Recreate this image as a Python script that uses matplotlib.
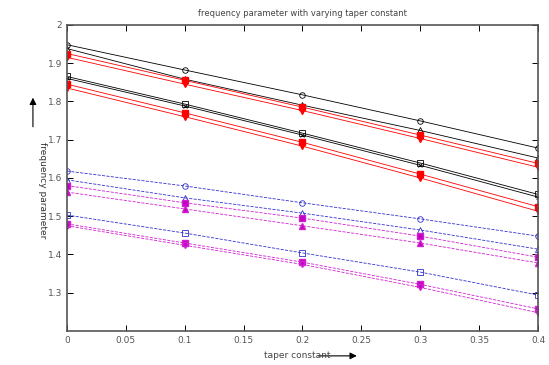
import matplotlib.pyplot as plt
import numpy as np

taper = [0, 0.1, 0.2, 0.3, 0.4]

# upper group (solid)
blk_circle = [1.948, 1.882, 1.817, 1.749, 1.678]
blk_tri = [1.938, 1.858, 1.790, 1.724, 1.652]
red_sq_a = [1.925, 1.855, 1.785, 1.712, 1.638]
red_tri_a = [1.915, 1.845, 1.776, 1.703, 1.628]
blk_square = [1.865, 1.793, 1.717, 1.639, 1.557]
blk_diam = [1.860, 1.788, 1.712, 1.633, 1.550]
red_sq_b = [1.845, 1.770, 1.693, 1.610, 1.525]
red_tri_b = [1.835, 1.760, 1.683, 1.600, 1.513]

# lower group (dashed)
blu_circle = [1.618, 1.579, 1.535, 1.493, 1.448]
blu_tri = [1.595, 1.548, 1.508, 1.464, 1.414]
mag_sq_a = [1.580, 1.535, 1.495, 1.448, 1.393]
mag_tri_a = [1.563, 1.519, 1.475, 1.430, 1.378]
blu_square = [1.503, 1.456, 1.404, 1.354, 1.294]
mag_sq_b = [1.480, 1.430, 1.380, 1.322, 1.258]
mag_tri_b = [1.475, 1.424, 1.374, 1.314, 1.248]

xticks = [0, 0.05, 0.1, 0.15, 0.2, 0.25, 0.3, 0.35, 0.4]
xticklabels = ['0', '0.05', '0.1', '0.15', '0.2', '0.25', '0.3', '0.35', '0.4']
yticks = [1.3, 1.4, 1.5, 1.6, 1.7, 1.8, 1.9, 2.0]
yticklabels = ['1.3', '1.4', '1.5', '1.6', '1.7', '1.8', '1.9', '2']

fig = plt.figure(figsize=(5.49, 3.65), dpi=100)
ax = fig.add_axes([0.122, 0.093, 0.858, 0.839])

ms = 4
ax.plot(taper, blk_circle, '-', color='black', lw=0.6, marker='o', mfc='none', ms=ms, mew=0.6)
ax.plot(taper, blk_tri, '-', color='black', lw=0.6, marker='^', mfc='none', ms=ms, mew=0.6)
ax.plot(taper, red_sq_a, '-', color='red', lw=0.6, marker='s', mfc='red', ms=ms)
ax.plot(taper, red_tri_a, '-', color='red', lw=0.6, marker='v', mfc='red', ms=ms)
ax.plot(taper, blk_square, '-', color='black', lw=0.6, marker='s', mfc='none', ms=ms, mew=0.6)
ax.plot(taper, blk_diam, '-', color='black', lw=0.6, marker='x', ms=3, mew=0.6)
ax.plot(taper, red_sq_b, '-', color='red', lw=0.6, marker='s', mfc='red', ms=ms)
ax.plot(taper, red_tri_b, '-', color='red', lw=0.6, marker='v', mfc='red', ms=ms)

ax.plot(taper, blu_circle, '--', color='#3030d0', lw=0.6, marker='o', mfc='none', ms=ms, mew=0.6)
ax.plot(taper, blu_tri, '--', color='#3030d0', lw=0.6, marker='^', mfc='none', ms=ms, mew=0.6)
ax.plot(taper, mag_sq_a, '--', color='#d020d0', lw=0.6, marker='s', mfc='#c000c0', ms=ms)
ax.plot(taper, mag_tri_a, '--', color='#d020d0', lw=0.6, marker='^', mfc='#c000c0', ms=ms)
ax.plot(taper, blu_square, '--', color='#3030d0', lw=0.6, marker='s', mfc='none', ms=ms, mew=0.6)
ax.plot(taper, mag_sq_b, '--', color='#d020d0', lw=0.6, marker='s', mfc='#c000c0', ms=ms)
ax.plot(taper, mag_tri_b, '--', color='#d020d0', lw=0.6, marker='v', mfc='#c000c0', ms=ms)

ax.set_xlim(0, 0.4)
ax.set_ylim(1.2, 2.0)
ax.set_xticks(xticks)
ax.set_xticklabels(xticklabels)
ax.set_yticks(yticks)
ax.set_yticklabels(yticklabels)
ax.tick_params(direction='in', top=True, right=True, labelsize=6.5,
               labelcolor='#555555', length=4, width=0.7)
for s in ax.spines.values():
    s.set_linewidth(1.2)
    s.set_color('#555555')

ax.set_title('frequency parameter with varying taper constant', fontsize=6,
             color='#444444', pad=6)
fig.text(0.48, 0.025, 'taper constant', fontsize=6.5, color='#444444', ha='left', va='center')
ax.annotate('', xy=(0.655, 0.025), xytext=(0.575, 0.025), xycoords='figure fraction',
            arrowprops=dict(arrowstyle='-|>', color='black', lw=0.8))
fig.text(0.078, 0.48, 'frequency parameter', fontsize=6.5, color='#333333',
         rotation=270, ha='center', va='center')
ax.annotate('', xy=(0.06, 0.74), xytext=(0.06, 0.645), xycoords='figure fraction',
            arrowprops=dict(arrowstyle='-|>', color='black', lw=0.8))

fig.savefig('out.png', dpi=100)
